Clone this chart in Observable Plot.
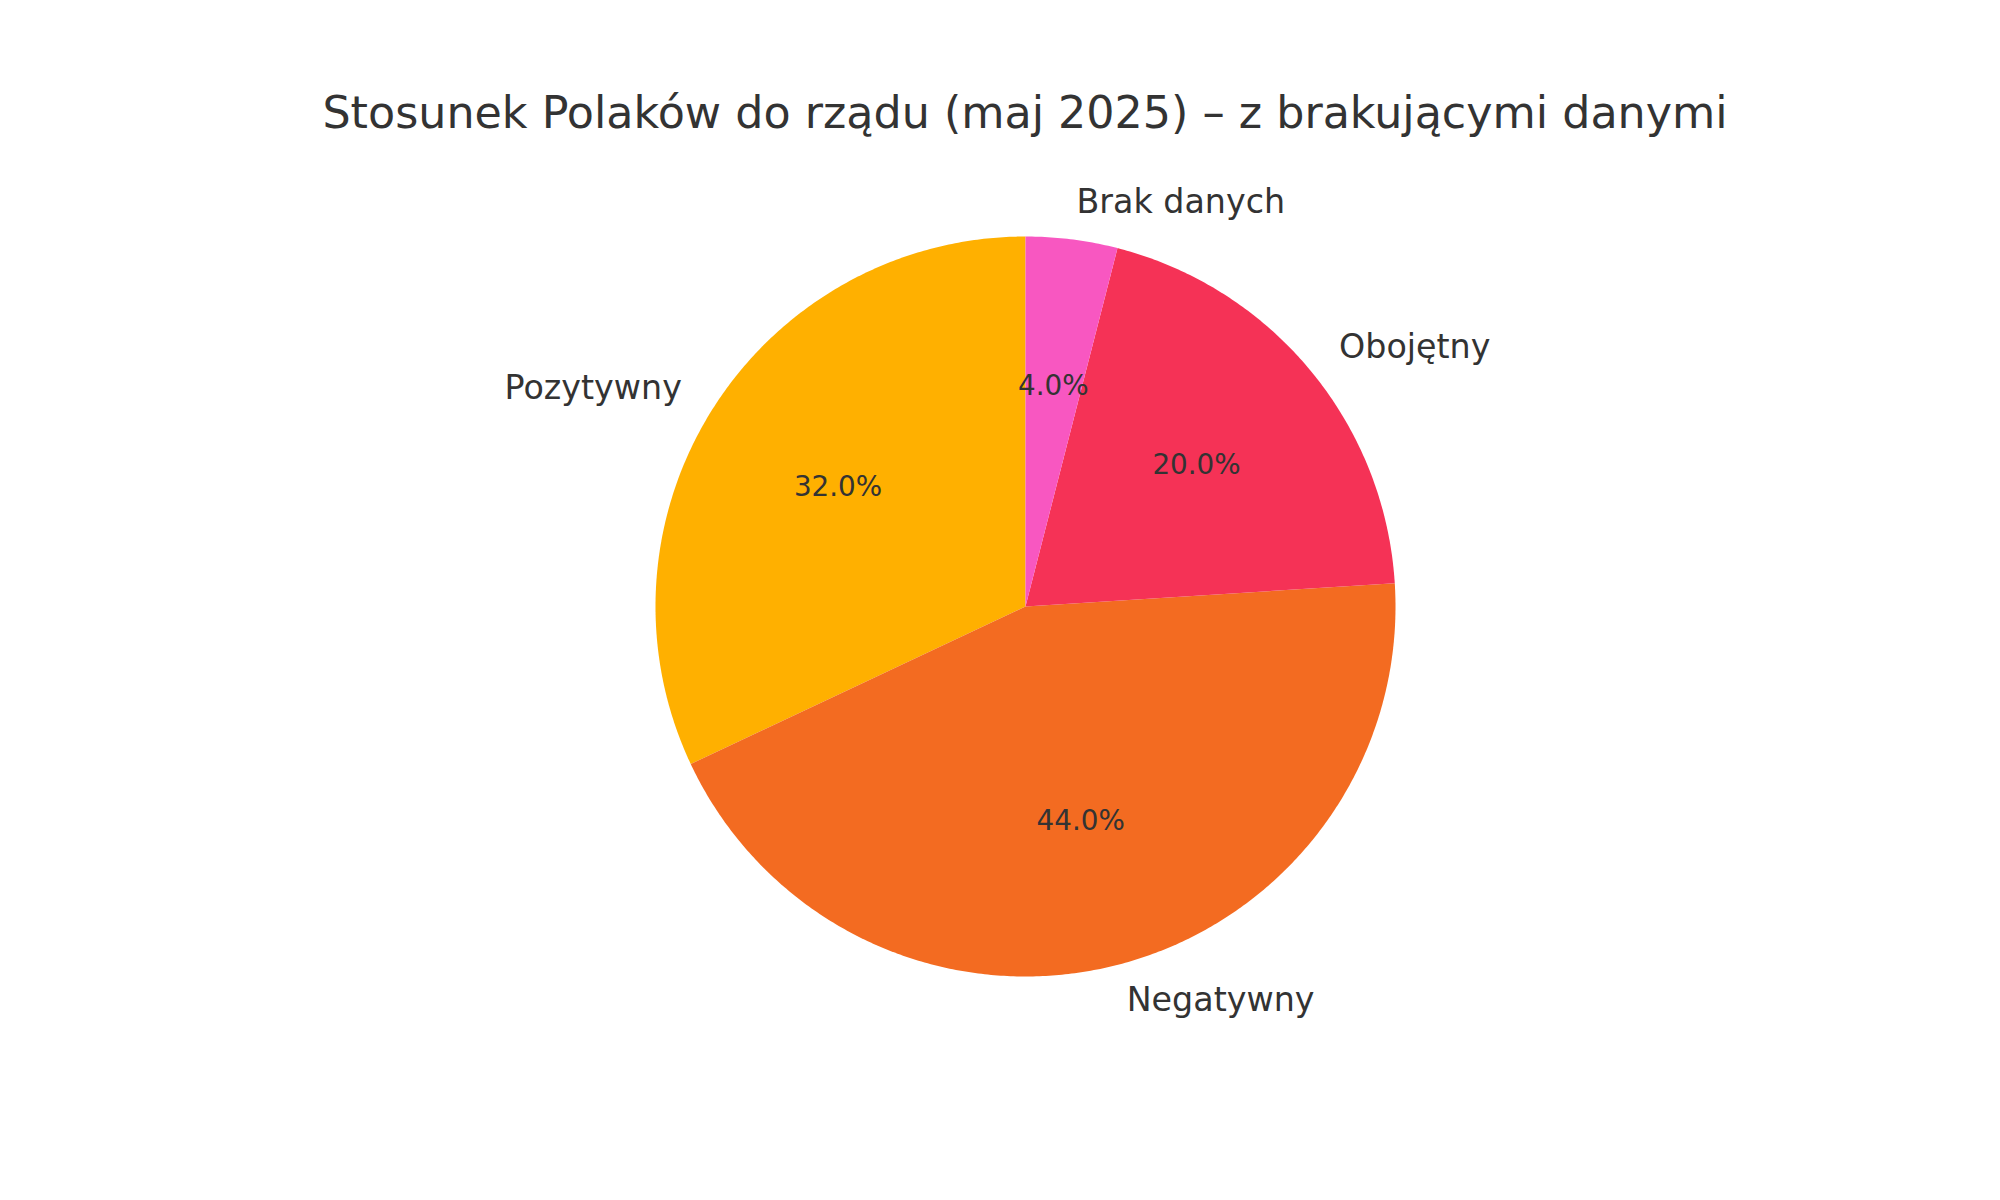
<!DOCTYPE html>
<html>
<head>
<meta charset="utf-8">
<script src="https://cdn.jsdelivr.net/npm/d3@7"></script>
<script src="https://cdn.jsdelivr.net/npm/@observablehq/plot@0.6"></script>
<style>
  html, body { margin: 0; padding: 0; background: #fff; }
  #title {
    width: 2000px; height: 160px; box-sizing: border-box;
    padding-top: 91px; padding-left: 50px; line-height: 44px;
    text-align: center; font-family: "DejaVu Sans", sans-serif;
    font-size: 44.4px; color: #333333; white-space: nowrap;
  }
</style>
</head>
<body>
<div id="title">Stosunek Polaków do rządu (maj 2025) – z brakującymi danymi</div>
<div id="chart"></div>
<script>
// Data
const categories = ["Pozytywny", "Negatywny", "Obojętny", "Brak danych"];
const shares = [32, 44, 20, 4];
const colors = ["#FFB000", "#F36B21", "#F53256", "#F857C1"];

const rows = categories.map((c, i) => ({label: c, value: shares[i]}));
const total = d3.sum(shares);

// Counter-clockwise from 12 o'clock (matplotlib startangle=90)
const arcs = d3.pie().sort(null).value(d => d.value)
  .startAngle(0).endAngle(-2 * Math.PI)(rows);

// polygon vertices for each slice (unit circle, y up)
const pts = [];
for (const a of arcs) {
  const a0 = a.startAngle, a1 = a.endAngle;
  const n = Math.max(8, Math.ceil(Math.abs(a1 - a0) / (Math.PI / 360)));
  pts.push({label: a.data.label, x: 0, y: 0});
  for (let k = 0; k <= n; k++) {
    const t = a0 + (a1 - a0) * k / n;
    pts.push({label: a.data.label, x: Math.sin(t), y: Math.cos(t)});
  }
  pts.push({label: a.data.label, x: 0, y: 0});
}

const labels = arcs.map(a => {
  const m = (a.startAngle + a.endAngle) / 2;
  return {
    label: a.data.label,
    pct: (100 * a.data.value / total).toFixed(1) + "%",
    lx: 1.1 * Math.sin(m), ly: 1.1 * Math.cos(m),
    px: 0.6 * Math.sin(m), py: 0.6 * Math.cos(m)
  };
});

const R = 370, cx = 1025, cy = 446;
const chart = Plot.plot({
  width: 2000,
  height: 1040,
  margin: 0,
  style: {fontFamily: "DejaVu Sans, sans-serif", background: "#fff"},
  x: {domain: [-1, 1], range: [cx - R, cx + R], axis: null},
  y: {domain: [-1, 1], range: [cy + R, cy - R], axis: null},
  color: {domain: categories, range: colors},
  marks: [
    Plot.line(pts, {x: "x", y: "y", z: "label", fill: "label", stroke: "none", curve: "linear"}),
    Plot.text(labels.filter(d => d.lx >= 0), {x: "lx", y: "ly", text: "label", textAnchor: "start", fontSize: 33.3, fill: "#333333"}),
    Plot.text(labels.filter(d => d.lx < 0), {x: "lx", y: "ly", text: "label", textAnchor: "end", fontSize: 33.3, fill: "#333333"}),
    Plot.text(labels, {x: "px", y: "py", text: "pct", fontSize: 27.8, fill: "#333333"})
  ]
});
document.getElementById("chart").appendChild(chart);
</script>
</body>
</html>
